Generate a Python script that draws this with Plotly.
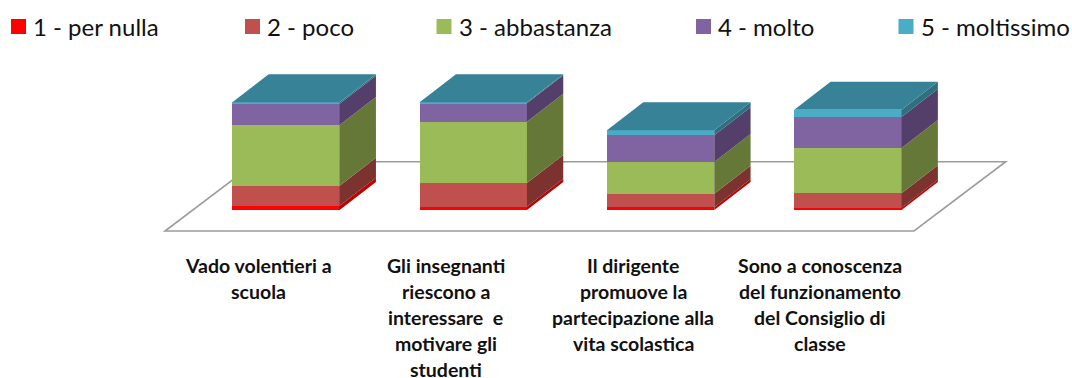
import plotly.graph_objects as go

# values, same order as the categories
categories = [
    "Vado volentieri a<br>scuola",
    "Gli insegnanti<br>riescono a<br>interessare  e<br>motivare gli<br>studenti",
    "Il dirigente<br>promuove la<br>partecipazione alla<br>vita scolastica",
    "Sono a conoscenza<br>del funzionamento<br>del Consiglio di<br>classe",
]
series_names = ["1 - per nulla", "2 - poco", "3 - abbastanza", "4 - molto", "5 - moltissimo"]
per_nulla = [4.3, 3.3, 2.7, 2.3]
poco = [20.0, 23.7, 13.6, 14.4]
abbastanza = [60.7, 61.3, 31.7, 45.3]
molto = [21.3, 18.4, 26.7, 31.0]
moltissimo = [1.4, 1.0, 5.0, 7.3]

series_values = [per_nulla, poco, abbastanza, molto, moltissimo]
front_colors = ["#FF0000", "#C0504D", "#9BBB59", "#8064A2", "#4BACC6"]
side_colors = ["#C00000", "#7C322F", "#657837", "#533F69", "#2F6F80"]
top_color = "#388298"
legend_x = [11, 245, 436.5, 696, 898.5]

W, H = 1072, 378
BASE_PX = 210      # pixel row of value 0
FIRST_PX = 286     # pixel column of the first category
STEP_PX = 187.3    # pixels between categories
BAR_W = 107.3 / STEP_PX
DX = 36.3 / STEP_PX  # 3d depth
DY = 28
LABEL_SHIFT = -27.5 / STEP_PX  # labels sit left of the columns

fig = go.Figure()

xs = list(range(len(categories)))

# front faces
for name, vals, col in zip(series_names, series_values, front_colors):
    fig.add_trace(go.Bar(x=xs, y=vals, name=name, width=BAR_W, marker=dict(color=col, line=dict(width=0)),
                         showlegend=False))

# side faces and the top of each column
for i in xs:
    right = i + BAR_W / 2
    left = i - BAR_W / 2
    base = 0
    for vals, col in zip(series_values, side_colors):
        top = base + vals[i]
        fig.add_trace(go.Scatter(
            x=[right, right + DX, right + DX, right, right],
            y=[base, base + DY, top + DY, top, base],
            mode="lines", fill="toself", fillcolor=col, line=dict(width=0),
            hoverinfo="skip", showlegend=False))
        base = top
    fig.add_trace(go.Scatter(
        x=[left, right, right + DX, left + DX, left],
        y=[base, base, base + DY, base + DY, base],
        mode="lines", fill="toself", fillcolor=top_color, line=dict(width=0),
        hoverinfo="skip", showlegend=False))

# floor of the 3d chart, behind the columns
fx0 = (165 - FIRST_PX) / STEP_PX
fx1 = (914 - FIRST_PX) / STEP_PX
fdx = 91.7 / STEP_PX
fy0 = BASE_PX - 231
fy1 = BASE_PX - 161.7
fig.add_shape(type="path", layer="below", xref="x", yref="y",
              path=f"M{fx0},{fy0} L{fx1},{fy0} L{fx1 + fdx},{fy1} L{fx0 + fdx},{fy1} Z",
              line=dict(color="#9C9C9C", width=1.6), fillcolor="rgba(0,0,0,0)")

# category labels, one annotation per line because of the wide line spacing
for i, label in enumerate(categories):
    for j, line in enumerate(label.split("<br>")):
        fig.add_annotation(x=i + LABEL_SHIFT, y=BASE_PX - (265 + 26 * j), xref="x", yref="y", text=f"<b>{line}</b>",
                           showarrow=False, xanchor="center", yanchor="middle",
                           font=dict(family="Lato", size=19.5, color="#111111"))

# legend on top
for name, lx, col in zip(series_names, legend_x, front_colors):
    fig.add_shape(type="rect", xref="paper", yref="paper", x0=lx / W, x1=(lx + 15) / W,
                  y0=1 - 34 / H, y1=1 - 19 / H, fillcolor=col, line=dict(width=0))
    fig.add_annotation(x=(lx + 20) / W, y=1 - 27 / H, xref="paper", yref="paper", text=name,
                       showarrow=False, xanchor="left", yanchor="middle",
                       font=dict(family="Lato", size=24, color="#111111"))

fig.update_layout(
    barmode="stack",
    width=W, height=H,
    margin=dict(l=0, r=0, t=0, b=0),
    plot_bgcolor="white", paper_bgcolor="white",
    showlegend=False,
    xaxis=dict(visible=False, range=[-FIRST_PX / STEP_PX, (W - FIRST_PX) / STEP_PX]),
    yaxis=dict(visible=False, range=[BASE_PX - H, BASE_PX]),
)

fig.write_html("out.html", config={"displayModeBar": False}, post_script="document.body.style.margin='0';")
